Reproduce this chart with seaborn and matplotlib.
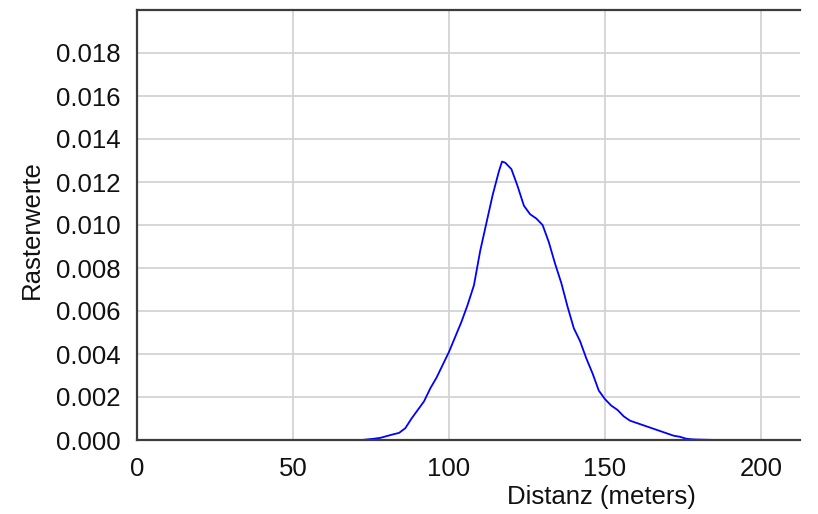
import matplotlib
matplotlib.use("Agg")
import numpy as np
import pandas as pd
import seaborn as sns
import matplotlib.pyplot as plt
from matplotlib.ticker import FormatStrFormatter

distance = [9, 72, 74, 76, 78, 80, 82, 84, 86, 88, 90, 92, 94, 96, 98, 100,
            102, 104, 106, 108, 110, 112, 114, 116, 117, 118, 120, 122, 124,
            126, 128, 130, 132, 134, 136, 138, 140, 142, 144, 146, 148, 150,
            152, 154, 156, 158, 160, 162, 164, 166, 168, 170, 172, 174, 176,
            178, 180, 186, 210]
values = [0, 0, 0.00003, 0.00006, 0.0001, 0.00018, 0.00026, 0.00033, 0.00055,
          0.001, 0.0014, 0.0018, 0.0024, 0.0029, 0.0035, 0.0041, 0.0048,
          0.0055, 0.0063, 0.0072, 0.0088, 0.0101, 0.0114, 0.0125, 0.01295,
          0.0129, 0.0126, 0.0118, 0.0109, 0.0105, 0.0103, 0.0100, 0.0092,
          0.0082, 0.0073, 0.0062, 0.0052, 0.0046, 0.0038, 0.0031, 0.0023,
          0.0019, 0.0016, 0.0014, 0.0011, 0.0009, 0.0008, 0.0007, 0.0006,
          0.0005, 0.0004, 0.0003, 0.0002, 0.00015, 0.00006, 0.00003, 0.00002,
          0, 0]
x_ticks = [0, 50, 100, 150, 200]
y_ticks = [0.000, 0.002, 0.004, 0.006, 0.008, 0.010, 0.012, 0.014, 0.016, 0.018]

sns.set_theme(style="whitegrid")
plt.rcParams["font.family"] = ["Liberation Sans", "DejaVu Sans"]

fig = plt.figure(figsize=(8.18, 5.14), dpi=100)
ax = fig.add_axes([137 / 818, 1 - 440 / 514, 663 / 818, 430 / 514])

df = pd.DataFrame({"Distanz": distance, "Rasterwerte": values})
sns.lineplot(data=df, x="Distanz", y="Rasterwerte", color="#0000ff",
             linewidth=1.3, estimator=None, ax=ax)

ax.set_xlim(0, 212.5)
ax.set_ylim(0, 0.02)
ax.set_xticks(x_ticks)
ax.set_yticks(y_ticks)
ax.yaxis.set_major_formatter(FormatStrFormatter("%.3f"))
ax.grid(True, color="#d3d3d3", linewidth=1.3)
ax.set_axisbelow(True)
for side in ["left", "top", "bottom"]:
    ax.spines[side].set_visible(True)
    ax.spines[side].set_color("#3c3c3c")
    ax.spines[side].set_linewidth(1.6)
ax.spines["right"].set_visible(False)
ax.set_facecolor("white")
ax.tick_params(axis="both", length=0, labelsize=18.5, pad=12, colors="#111111")

ax.set_xlabel("Distanz (meters)", fontsize=18.5, color="#111111")
ax.set_ylabel("Rasterwerte", fontsize=18.5, color="#111111")
ax.xaxis.set_label_coords(0.70, -0.105)
ax.yaxis.set_label_coords(-0.14, 0.49)

fig.savefig("out.png", dpi=100, facecolor="white")
